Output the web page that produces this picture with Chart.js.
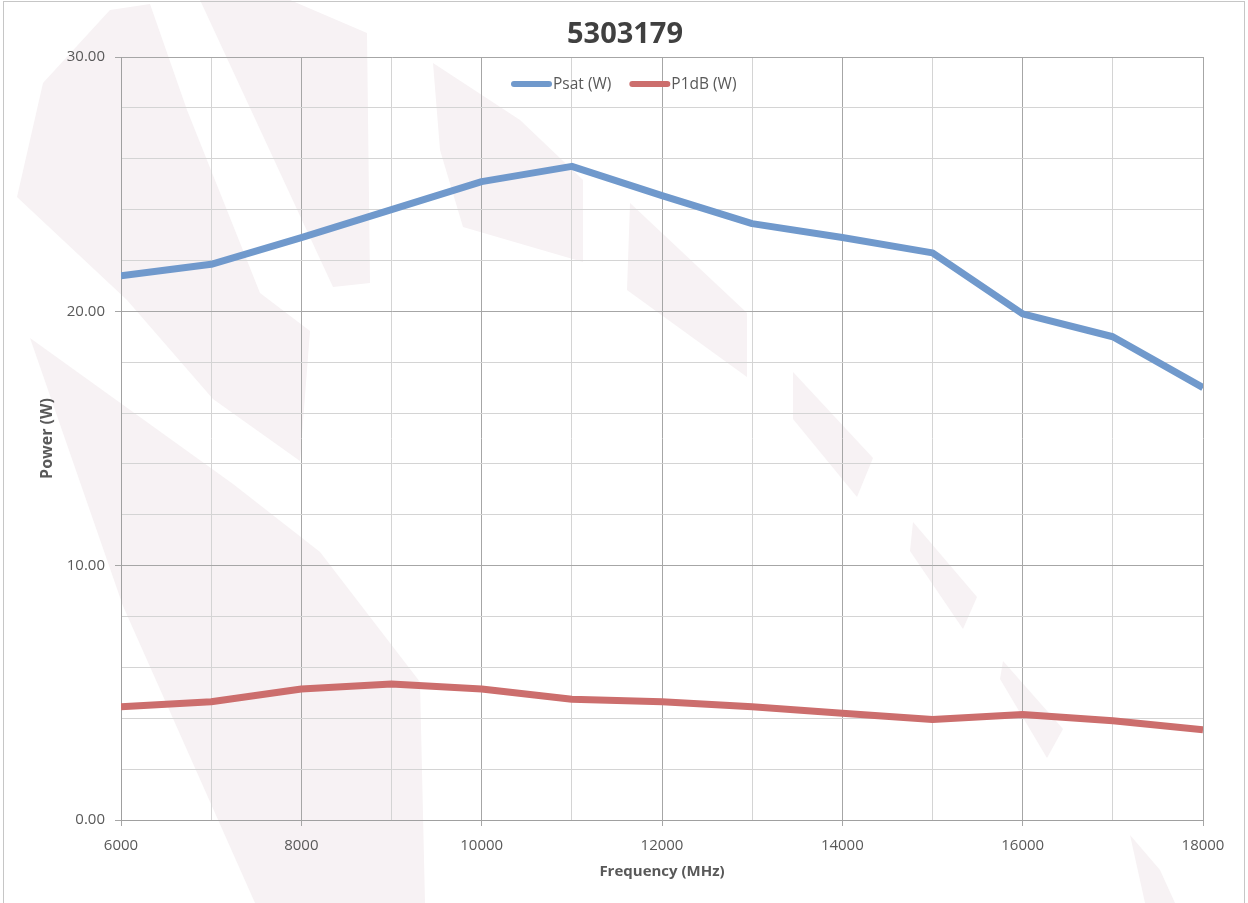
<!DOCTYPE html>
<html>
<head>
<meta charset="utf-8">
<script src="https://cdn.jsdelivr.net/npm/chart.js@4/dist/chart.umd.min.js"></script>
<style>
html,body{margin:0;padding:0;background:#fff;}
canvas{display:block;}
</style>
</head>
<body>
<canvas id="c" width="1248" height="903"></canvas>
<script>
const chartTitle = "5303179";
const frequencies = [6000, 7000, 8000, 9000, 10000, 11000, 12000, 13000, 14000, 15000, 16000, 17000, 18000];
const psatW = [21.4, 21.85, 22.9, 24.0, 25.1, 25.7, 24.55, 23.45, 22.9, 22.3, 19.9, 19.0, 17.0];
const p1dbW = [4.45, 4.65, 5.15, 5.35, 5.15, 4.75, 4.65, 4.45, 4.2, 3.95, 4.15, 3.9, 3.55];
const seriesNames = ["Psat (W)", "P1dB (W)"];
const xAxisTitle = "Frequency (MHz)";
const yAxisTitle = "Power (W)";

const FONT = "'Open Sans', 'Noto Sans', sans-serif";
const TEXT = "#595959";

const watermark = [
  [[17,197],[43,83],[110,10],[150,4],[187,110],[260,293],[310,331],[300,461],[213,399],[127,300]],
  [[30,338],[233,484],[320,552],[420,682],[425,903],[255,903],[123,606]],
  [[200,0],[290,0],[367,33],[370,283],[333,287]],
  [[433,63],[520,120],[583,180],[583,262],[463,227],[440,150]],
  [[630,203],[747,313],[747,377],[627,290]],
  [[793,372],[873,458],[857,497],[793,419]],
  [[913,522],[977,597],[963,629],[910,551]],
  [[1003,661],[1063,729],[1047,758],[1000,679]],
  [[1130,835],[1160,870],[1175,903],[1145,903]]
];

const bgPlugin = {
  id: 'bg',
  beforeDraw(chart) {
    const ctx = chart.ctx;
    ctx.save();
    ctx.fillStyle = '#ffffff';
    ctx.fillRect(0, 0, chart.width, chart.height);
    ctx.fillStyle = '#f7f2f4';
    for (const poly of watermark) {
      ctx.beginPath();
      poly.forEach((p, i) => i ? ctx.lineTo(p[0], p[1]) : ctx.moveTo(p[0], p[1]));
      ctx.closePath();
      ctx.fill();
    }
    ctx.restore();
  },
  afterDraw(chart) {
    const ctx = chart.ctx;
    ctx.save();
    ctx.strokeStyle = '#c6c6c6';
    ctx.lineWidth = 1;
    ctx.strokeRect(3.5, 1.5, 1241, 905);
    // title
    ctx.fillStyle = '#404040';
    ctx.font = "bold 29px " + FONT;
    ctx.textAlign = 'center';
    ctx.textBaseline = 'middle';
    ctx.fillText(chartTitle, 625, 35);
    // legend
    const items = chart.data.datasets.map(d => ({label: d.label, color: d.borderColor}));
    let x = 511;
    const y = 84;
    ctx.font = "15.5px " + FONT;
    ctx.textAlign = 'left';
    items.forEach(it => {
      ctx.strokeStyle = it.color;
      ctx.lineWidth = 6;
      ctx.lineCap = 'round';
      ctx.beginPath();
      ctx.moveTo(x + 3, y);
      ctx.lineTo(x + 38, y);
      ctx.stroke();
      ctx.fillStyle = TEXT;
      ctx.fillText(it.label, x + 42, y + 1);
      x += 42 + ctx.measureText(it.label).width + 18;
    });
    ctx.restore();
  }
};

new Chart(document.getElementById('c'), {
  type: 'line',
  data: {
    datasets: [
      {
        label: seriesNames[0],
        data: frequencies.map((f, i) => ({x: f, y: psatW[i]})),
        borderColor: '#7099cc',
        borderWidth: 7,
        pointRadius: 0,
        tension: 0,
        borderJoinStyle: 'round'
      },
      {
        label: seriesNames[1],
        data: frequencies.map((f, i) => ({x: f, y: p1dbW[i]})),
        borderColor: '#cc6e6d',
        borderWidth: 7,
        pointRadius: 0,
        tension: 0,
        borderJoinStyle: 'round'
      }
    ]
  },
  options: {
    responsive: false,
    animation: false,
    layout: {padding: {left: 0, top: 57, right: 45, bottom: 0}},
    plugins: {
      legend: {display: false},
      title: {display: false},
      tooltip: {enabled: false}
    },
    scales: {
      x: {
        type: 'linear',
        min: 6000,
        max: 18000,
        afterFit(s) { s.height = 83; },
        afterBuildTicks(s) {
          s.ticks = [];
          for (let v = 6000; v <= 18000; v += 1000) s.ticks.push({value: v});
        },
        ticks: {
          color: TEXT,
          font: {family: FONT, size: 15},
          padding: 11,
          maxRotation: 0,
          autoSkip: false,
          callback: (v) => (v % 2000 === 0 ? String(v) : '')
        },
        grid: {
          color: (c) => (c.tick && c.tick.value % 2000 === 0 ? '#a6a6a6' : '#d4d4d4'),
          tickColor: (c) => (c.tick && c.tick.value % 2000 === 0 ? '#a6a6a6' : 'rgba(0,0,0,0)'),
          tickLength: 6,
          lineWidth: 1
        },
        border: {color: '#a0a0a0'},
        title: {
          display: true,
          text: xAxisTitle,
          color: TEXT,
          font: {family: FONT, size: 15, weight: 'bold'},
          padding: {top: 0, bottom: 22}
        }
      },
      y: {
        type: 'linear',
        min: 0,
        max: 30,
        afterFit(s) { s.width = 121; },
        afterBuildTicks(s) {
          s.ticks = [];
          for (let v = 0; v <= 30; v += 2) s.ticks.push({value: v});
        },
        ticks: {
          color: TEXT,
          font: {family: FONT, size: 15},
          padding: 10,
          autoSkip: false,
          callback: (v) => (v % 10 === 0 ? v.toFixed(2) : '')
        },
        grid: {
          color: (c) => (c.tick && c.tick.value % 10 === 0 ? '#a6a6a6' : '#d4d4d4'),
          tickColor: (c) => (c.tick && c.tick.value % 10 === 0 ? '#a6a6a6' : 'rgba(0,0,0,0)'),
          tickLength: 6,
          lineWidth: 1
        },
        border: {color: '#a0a0a0'},
        title: {
          display: true,
          text: yAxisTitle,
          color: TEXT,
          font: {family: FONT, size: 16, weight: 'bold'},
          padding: {top: 38, bottom: 0}
        }
      }
    }
  },
  plugins: [bgPlugin]
});
</script>
</body>
</html>
